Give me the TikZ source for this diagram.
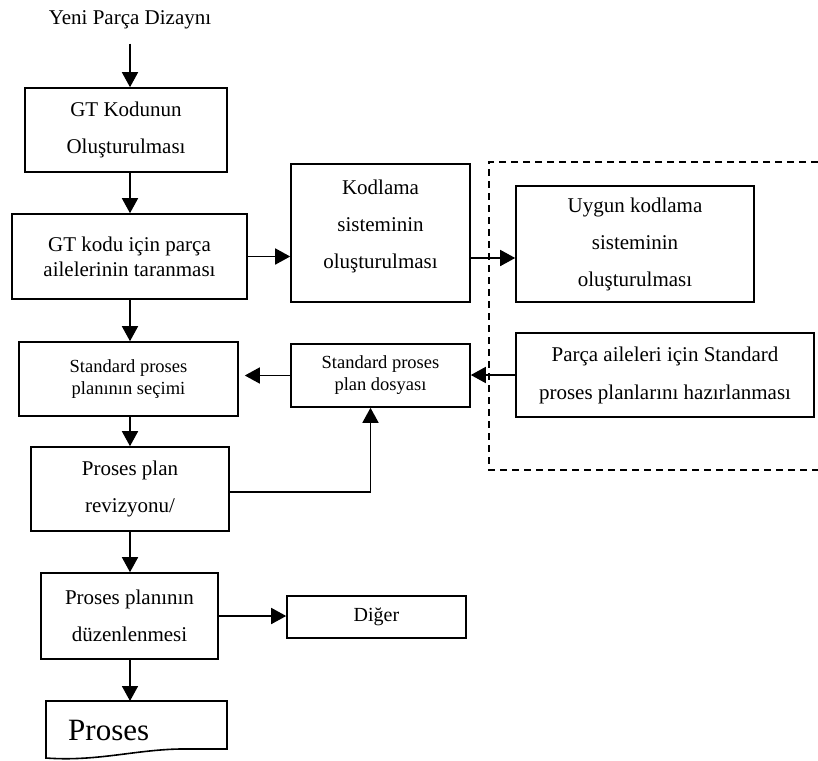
\documentclass[tikz,border=0pt]{standalone}
\usepackage{fontspec}
\setmainfont{Liberation Serif}
\usetikzlibrary{arrows.meta}
\begin{document}
\begin{tikzpicture}[x=1pt,y=-1pt,
  box/.style={draw, line width=1.6pt, inner sep=0pt, align=center, font={\fontsize{21}{37}\selectfont}},
  smallbox/.style={box, font={\fontsize{18.5}{22}\selectfont}},
  arr/.style={-{Triangle[length=15pt,width=16pt]}, line width=1.6pt},
  frame/.style={line width=1.4pt, dash pattern=on 7pt off 5pt}
]
\useasboundingbox (0,0) rectangle (818,760);

\node[anchor=base, inner sep=2pt, font={\fontsize{21}{25}\selectfont}] (title) at (130,25) {Yeni Parça Dizaynı};

\node[box, minimum width=202pt, minimum height=84pt] (b1) at (126,130) {GT Kodunun\\Oluşturulması};
\node[box, font={\fontsize{21}{25}\selectfont}, minimum width=235pt, minimum height=85pt] (b2) at (129.5,256.5) {GT kodu için parça\\ailelerinin taranması};
\node[box, minimum width=179pt, minimum height=138pt] (b3) at (380.5,233) {Kodlama\\sisteminin\\oluşturulması\\[-19pt]};
\node[box, minimum width=238pt, minimum height=116pt] (b4) at (635,244) {Uygun kodlama\\sisteminin\\oluşturulması};
\node[box, font={\fontsize{21}{38}\selectfont}, minimum width=298pt, minimum height=84pt] (b5) at (665,375) {Parça aileleri için Standard\\proses planlarını hazırlanması};
\node[smallbox, minimum width=179pt, minimum height=63pt] (b6) at (380.5,375.5) {Standard proses\\plan dosyası};
\node[smallbox, minimum width=219pt, minimum height=74pt] (b7) at (128.5,379) {Standard proses\\planının seçimi};
\node[box, minimum width=198pt, minimum height=84pt] (b8) at (130,489) {Proses plan\\revizyonu/};
\node[box, minimum width=177pt, minimum height=86pt] (b9) at (129.5,616) {Proses planının\\düzenlenmesi};
\node[box, font={\fontsize{20}{24}\selectfont}, minimum width=179pt, minimum height=42pt] (b10) at (376.5,617) {Diğer};

% document shape
\draw[line width=1.6pt] (46,701) -- (227,701) -- (227,749) -- (190,749)
  .. controls (140,748) and (100,762) .. (46,758) -- cycle;
\coordinate (doctop) at (130,701);
\node[anchor=base west, inner sep=0pt, font={\fontsize{31}{36}\selectfont}] (proses) at (68,740) {Proses};

% dashed frame
\draw[frame] (818,162) -- (489,162) -- (489,470) -- (818,470);

% connectors
\draw[arr, shorten <=12pt] (title.south) -- (b1.north -| title);
\draw[arr] (b1.south -| title) -- (b2.north -| title);
\draw[arr] (b2.east) -- (b2.east -| b3.west);
\draw[arr] ([yshift=-25pt]b3.east) -- ([yshift=-25pt]b3.east -| b4.west);
\draw[arr] (b5.west) -- (b5.west -| b6.east);
\draw[arr, shorten >=6pt] (b6.west) -- (b6.west -| b7.east);
\draw[arr] (b2.south -| title) -- (b7.north -| title);
\draw[arr] (b7.south -| title) -- (b8.north -| title);
\draw[arr] ([yshift=-3pt]b8.east) -| ([xshift=-10pt]b6.south);
\draw[arr] (b8.south -| title) -- (b9.north -| title);
\draw[arr] (b9.east) -- (b9.east -| b10.west);
\draw[arr] (b9.south -| title) -- (doctop);
\end{tikzpicture}
\end{document}
